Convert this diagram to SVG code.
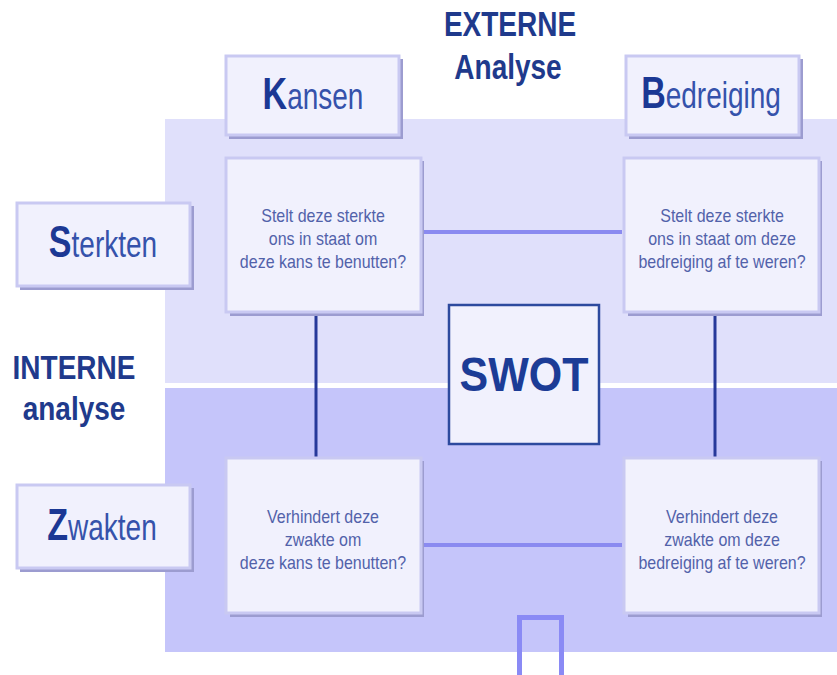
<svg xmlns="http://www.w3.org/2000/svg" width="837" height="675" viewBox="0 0 837 675">
<defs>
<style>
.bg1{fill:#e0e0fb}
.bg2{fill:#c5c5fa}
.shadow{fill:#9c9cd0}
.box{fill:#f1f1fd;stroke:#c9c9f2;stroke-width:3}
.head{font-family:"Liberation Sans",Arial,sans-serif;font-weight:bold;font-size:28px;fill:#1f3a8c;text-anchor:middle}
.lbl{font-family:"Liberation Sans",Arial,sans-serif;font-size:28px;fill:#3552ab}
.big{font-weight:bold;font-size:34px;fill:#1b3894}
.q{font-family:"Liberation Sans",Arial,sans-serif;font-size:16px;fill:#5262aa;text-anchor:middle}
.hl{stroke:#8a8af0;stroke-width:4;fill:none}
.vl{stroke:#27399a;stroke-width:3;fill:none}
</style>
</defs>
<rect width="837" height="675" fill="#ffffff"/>
<rect class="bg1" x="165" y="119" width="672" height="264"/>
<rect class="bg2" x="165" y="388" width="672" height="264"/>

<g id="externe">
<text class="head" transform="translate(510,36) scale(1,1.25)">EXTERNE</text>
<text class="head" transform="translate(508,79) scale(1,1.25)">Analyse</text>
</g>
<g id="interne">
<text class="head" transform="translate(74,379) scale(1,1.2)">INTERNE</text>
<text class="head" transform="translate(74,420) scale(1,1.2)">analyse</text>
</g>

<g id="connectors">
<line class="hl" x1="422" y1="232" x2="622" y2="232"/>
<line class="hl" x1="422" y1="545" x2="622" y2="545"/>
<line class="vl" x1="316" y1="313" x2="316" y2="457"/>
<line class="vl" x1="715" y1="313" x2="715" y2="457"/>
<path d="M519.5,675 V617.5 H561.5 V675" stroke="#8a8af5" stroke-width="5" fill="none"/>
</g>

<g id="kansen">
<rect class="shadow" x="229" y="59" width="174" height="80"/>
<rect class="box" x="226" y="56" width="173" height="79"/>
<text class="lbl" text-anchor="middle" transform="translate(313,109) scale(1,1.3)"><tspan class="big">K</tspan>ansen</text>
</g>
<g id="bedreiging">
<rect class="shadow" x="629" y="59" width="174" height="80"/>
<rect class="box" x="626" y="56" width="173" height="79"/>
<text class="lbl" text-anchor="middle" transform="translate(711,108) scale(1,1.3)"><tspan class="big">B</tspan>edreiging</text>
</g>
<g id="sterkten">
<rect class="shadow" x="20" y="206" width="174" height="84"/>
<rect class="box" x="17" y="203" width="173" height="83"/>
<text class="lbl" text-anchor="middle" transform="translate(103,257) scale(1,1.3)"><tspan class="big">S</tspan>terkten</text>
</g>
<g id="zwakten">
<rect class="shadow" x="20" y="488" width="174" height="84"/>
<rect class="box" x="17" y="485" width="173" height="83"/>
<text class="lbl" text-anchor="middle" transform="translate(102,540) scale(1,1.3)"><tspan class="big">Z</tspan>wakten</text>
</g>

<g id="so">
<rect class="shadow" x="230" y="161" width="194" height="155"/>
<rect class="box" x="226" y="158" width="195" height="154"/>
<text class="q" transform="translate(323,222) scale(1,1.15)">Stelt deze sterkte</text>
<text class="q" transform="translate(323,245) scale(1,1.15)">ons in staat om</text>
<text class="q" transform="translate(323,268) scale(1,1.15)">deze kans te benutten?</text>
</g>
<g id="st">
<rect class="shadow" x="628" y="161" width="194" height="155"/>
<rect class="box" x="624" y="158" width="195" height="154"/>
<text class="q" transform="translate(722,222) scale(1,1.15)">Stelt deze sterkte</text>
<text class="q" transform="translate(722,245) scale(1,1.15)">ons in staat om deze</text>
<text class="q" transform="translate(722,268) scale(1,1.15)">bedreiging af te weren?</text>
</g>
<g id="wo">
<rect class="shadow" x="230" y="461" width="194" height="156"/>
<rect class="box" x="226" y="458" width="195" height="155"/>
<text class="q" transform="translate(323,523) scale(1,1.15)">Verhindert deze</text>
<text class="q" transform="translate(323,546) scale(1,1.15)">zwakte om</text>
<text class="q" transform="translate(323,569) scale(1,1.15)">deze kans te benutten?</text>
</g>
<g id="wt">
<rect class="shadow" x="628" y="461" width="194" height="156"/>
<rect class="box" x="624" y="458" width="195" height="155"/>
<text class="q" transform="translate(722,523) scale(1,1.15)">Verhindert deze</text>
<text class="q" transform="translate(722,546) scale(1,1.15)">zwakte om deze</text>
<text class="q" transform="translate(722,569) scale(1,1.15)">bedreiging af te weren?</text>
</g>

<g id="swot">
<rect x="449" y="305" width="150" height="139" fill="#f1f1fd" stroke="#2d4a9e" stroke-width="2.5"/>
<text x="524" y="391" font-family="'Liberation Sans',Arial,sans-serif" font-weight="bold" font-size="43" fill="#1c3c96" text-anchor="middle" transform="translate(0,-39) scale(1,1.1)">SWOT</text>
</g>
</svg>
